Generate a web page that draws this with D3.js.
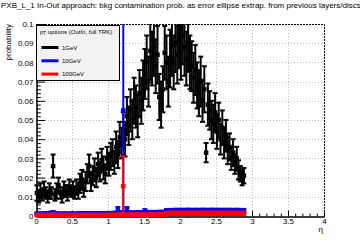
<!DOCTYPE html>
<html>
<head>
<meta charset="utf-8">
<script src="https://cdn.jsdelivr.net/npm/d3@7"></script>
<style>
  body { margin: 0; background: #fff; }
  svg { display: block; font-family: "Liberation Sans", Arial, sans-serif; }
</style>
</head>
<body>
<svg id="chart" width="360" height="240"></svg>
<script>
// histogram binning (eta)
const etaMin = 0;
const etaBinWidth = 0.025;

// 1 GeV
const val1GeV = [
  0.012, 0.010, 0.013, 0.011, 0.014, 0.012, 0.010, 0.013, 0.012, 0.026,
  0.011, 0.013, 0.016, 0.012, 0.010, 0.014, 0.013, 0.012, 0.015, 0.013,
  0.014, 0.012, 0.015, 0.013, 0.017, 0.019, 0.014, 0.018,
  0.022, 0.026, 0.018, 0.021, 0.024, 0.020, 0.027, 0.023, 0.029, 0.025, 0.022, 0.030,
  0.027, 0.031, 0.033, 0.028, 0.036, 0.032, 0.041, 0.038,
  0.045, 0.040, 0.052, 0.047, 0.055, 0.050, 0.060, 0.057, 0.052, 0.064, 0.060, 0.068,
  0.074, 0.080, 0.070, 0.086, 0.082, 0.088, 0.078, 0.084,
  0.062, 0.058, 0.066, 0.085, 0.080, 0.070,
  0.082, 0.088, 0.080, 0.090, 0.084, 0.092, 0.086, 0.094, 0.088, 0.082, 0.090, 0.080,
  0.078, 0.072, 0.076, 0.068, 0.064, 0.070, 0.060, 0.066, 0.033, 0.058, 0.055, 0.050,
  0.048, 0.054, 0.044, 0.050, 0.040, 0.046, 0.038, 0.042, 0.034, 0.036,
  0.030, 0.033, 0.027, 0.030, 0.024, 0.022, 0.020, 0.021
];
const err1GeV = [
  0.004, 0.003, 0.004, 0.003, 0.004, 0.003, 0.003, 0.004, 0.003, 0.006,
  0.003, 0.004, 0.004, 0.003, 0.003, 0.004, 0.003, 0.004, 0.004, 0.003,
  0.004, 0.003, 0.004, 0.004, 0.005, 0.005, 0.004, 0.005, 0.005, 0.006,
  0.005, 0.005, 0.006, 0.005, 0.006, 0.005, 0.006, 0.006, 0.005, 0.006,
  0.006, 0.007, 0.007, 0.006, 0.008, 0.007, 0.008, 0.008, 0.009, 0.009,
  0.010, 0.010, 0.011, 0.010, 0.012, 0.011, 0.011, 0.012, 0.012, 0.013,
  0.013, 0.014, 0.013, 0.015, 0.014, 0.015, 0.014, 0.015, 0.012, 0.012,
  0.012, 0.014, 0.014, 0.013, 0.015, 0.015, 0.014, 0.015, 0.015, 0.015,
  0.015, 0.015, 0.015, 0.014, 0.015, 0.014,
  0.013, 0.013, 0.013, 0.012, 0.012, 0.013, 0.011, 0.012, 0.005, 0.011, 0.010, 0.010,
  0.010, 0.010, 0.009, 0.009, 0.008, 0.009, 0.008, 0.008, 0.007, 0.007,
  0.006, 0.007, 0.005, 0.006, 0.005, 0.004, 0.004, 0.004
];

// 10 GeV
const val10GeV = [
  0.0010, 0.0011, 0.0010, 0.0009, 0.0011, 0.0010, 0.0012, 0.0010, 0.0014, 0.0016,
  0.0012, 0.0010, 0.0011, 0.0009, 0.0010, 0.0011, 0.0010, 0.0009, 0.0010, 0.0011,
  0.0010, 0.0009, 0.0010, 0.0011, 0.0010, 0.0012, 0.0010, 0.0011, 0.0010, 0.0012,
  0.0011, 0.0010, 0.0012, 0.0011, 0.0012, 0.0010, 0.0011, 0.0012, 0.0011, 0.0012,
  0.0012, 0.0011, 0.0013, 0.0012, 0.0014, 0.0030, 0.0015, 0.0016, 0.0550, 0.0016,
  0.0030, 0.0014, 0.0015, 0.0013, 0.0015, 0.0014, 0.0016, 0.0015, 0.0014, 0.0016,
  0.0020, 0.0015, 0.0016, 0.0015, 0.0017, 0.0016, 0.0015, 0.0017, 0.0016, 0.0018,
  0.0017, 0.0016, 0.0024, 0.0025, 0.0023, 0.0025, 0.0024, 0.0026, 0.0025, 0.0024,
  0.0026, 0.0025, 0.0024, 0.0026, 0.0025, 0.0026, 0.0024, 0.0025, 0.0026, 0.0025,
  0.0024, 0.0026, 0.0025, 0.0026, 0.0025, 0.0024, 0.0026, 0.0025, 0.0026, 0.0025,
  0.0024, 0.0026, 0.0025, 0.0024, 0.0026, 0.0025, 0.0024, 0.0026, 0.0025, 0.0024,
  0.0025, 0.0026, 0.0024, 0.0025, 0.0024, 0.0025
];
const err10GeV = [
  0.0008, 0.0008, 0.0008, 0.0007, 0.0008, 0.0008, 0.0009, 0.0008, 0.0009, 0.0010,
  0.0009, 0.0008, 0.0008, 0.0007, 0.0008, 0.0008, 0.0008, 0.0007, 0.0008, 0.0008,
  0.0008, 0.0007, 0.0008, 0.0008, 0.0008, 0.0009, 0.0008, 0.0008, 0.0008, 0.0009,
  0.0008, 0.0008, 0.0009, 0.0008, 0.0009, 0.0008, 0.0008, 0.0009, 0.0008, 0.0009,
  0.0009, 0.0008, 0.0009, 0.0009, 0.0009, 0.0017, 0.0009, 0.0010, 0.0550, 0.0010,
  0.0017, 0.0009, 0.0009, 0.0009, 0.0009, 0.0009, 0.0010, 0.0009, 0.0009, 0.0010,
  0.0016, 0.0009, 0.0010, 0.0009, 0.0010, 0.0010, 0.0009, 0.0010, 0.0010, 0.0010,
  0.0010, 0.0010, 0.0012, 0.0012, 0.0011, 0.0012, 0.0012, 0.0012, 0.0012, 0.0012,
  0.0012, 0.0012, 0.0012, 0.0012, 0.0012, 0.0012, 0.0012, 0.0012, 0.0012, 0.0012,
  0.0012, 0.0012, 0.0012, 0.0012, 0.0012, 0.0012, 0.0012, 0.0012, 0.0012, 0.0012,
  0.0012, 0.0012, 0.0012, 0.0012, 0.0012, 0.0012, 0.0012, 0.0012, 0.0012, 0.0012,
  0.0012, 0.0012, 0.0012, 0.0012, 0.0012, 0.0012
];

// 100 GeV
const val100GeV = [
  0.0005, 0.0004, 0.0005, 0.0005, 0.0004, 0.0005, 0.0005, 0.0004, 0.0005, 0.0006,
  0.0005, 0.0004, 0.0005, 0.0005, 0.0004, 0.0005, 0.0005, 0.0004, 0.0005, 0.0005,
  0.0005, 0.0004, 0.0005, 0.0005, 0.0004, 0.0005, 0.0005, 0.0004, 0.0005, 0.0005,
  0.0005, 0.0004, 0.0005, 0.0005, 0.0004, 0.0005, 0.0005, 0.0004, 0.0005, 0.0005,
  0.0005, 0.0005, 0.0006, 0.0005, 0.0005, 0.0006, 0.0005, 0.0006, 0.0155, 0.0006,
  0.0006, 0.0005, 0.0006, 0.0006, 0.0005, 0.0006, 0.0006, 0.0005, 0.0006, 0.0006,
  0.0006, 0.0005, 0.0006, 0.0006, 0.0005, 0.0006, 0.0006, 0.0005, 0.0006, 0.0007,
  0.0006, 0.0007, 0.0012, 0.0011, 0.0012, 0.0013, 0.0012, 0.0011, 0.0012, 0.0013,
  0.0012, 0.0011, 0.0012, 0.0013, 0.0012, 0.0012, 0.0011, 0.0012, 0.0013, 0.0012,
  0.0012, 0.0011, 0.0012, 0.0013, 0.0012, 0.0012, 0.0011, 0.0012, 0.0013, 0.0012,
  0.0012, 0.0011, 0.0012, 0.0013, 0.0012, 0.0012, 0.0011, 0.0012, 0.0013, 0.0012,
  0.0012, 0.0011, 0.0012, 0.0012, 0.0011, 0.0012
];
const err100GeV = [
  0.0005, 0.0004, 0.0005, 0.0005, 0.0004, 0.0005, 0.0005, 0.0004, 0.0005, 0.0006,
  0.0005, 0.0004, 0.0005, 0.0005, 0.0004, 0.0005, 0.0005, 0.0004, 0.0005, 0.0005,
  0.0005, 0.0004, 0.0005, 0.0005, 0.0004, 0.0005, 0.0005, 0.0004, 0.0005, 0.0005,
  0.0005, 0.0004, 0.0005, 0.0005, 0.0004, 0.0005, 0.0005, 0.0004, 0.0005, 0.0005,
  0.0005, 0.0005, 0.0006, 0.0005, 0.0005, 0.0006, 0.0005, 0.0006, 0.0155, 0.0006,
  0.0006, 0.0005, 0.0006, 0.0006, 0.0005, 0.0006, 0.0006, 0.0005, 0.0006, 0.0006,
  0.0006, 0.0005, 0.0006, 0.0006, 0.0005, 0.0006, 0.0006, 0.0005, 0.0006, 0.0007,
  0.0006, 0.0007, 0.0010, 0.0009, 0.0010, 0.0010, 0.0010, 0.0009, 0.0010, 0.0010,
  0.0010, 0.0009, 0.0010, 0.0010, 0.0010, 0.0010, 0.0009, 0.0010, 0.0010, 0.0010,
  0.0010, 0.0009, 0.0010, 0.0010, 0.0010, 0.0010, 0.0009, 0.0010, 0.0010, 0.0010,
  0.0010, 0.0009, 0.0010, 0.0010, 0.0010, 0.0010, 0.0009, 0.0010, 0.0010, 0.0010,
  0.0010, 0.0009, 0.0010, 0.0010, 0.0009, 0.0010
];

const legendLabels = ['1GeV', '10GeV', '100GeV'];
const seriesColors = ['#000000', '#0000ff', '#ff0000'];

const xTicks = [0, 0.5, 1, 1.5, 2, 2.5, 3, 3.5, 4];
const yTicks = [0, 0.01, 0.02, 0.03, 0.04, 0.05, 0.06, 0.07, 0.08, 0.09, 0.1];

let svg = d3.select('#chart');

let x = d3.scaleLinear().domain([0, 4]).range([36, 324]);
let y = d3.scaleLinear().domain([0, 0.1]).range([216, 24]);

//======= title =======//
svg.append('text')
  .attr('x', 1)
  .attr('y', 7.5)
  .attr('font-size', 8)
  .text('PXB_L_1 In-Out approach: bkg contamination prob. as error ellipse extrap. from previous layers/discs');

//======= grid =======//
let grid = svg.append('g')
  .attr('stroke', '#bdbdbd')
  .attr('stroke-width', 1)
  .attr('stroke-dasharray', '1,2');

grid.selectAll('.gx')
  .data(xTicks.slice(1, -1))
  .enter()
  .append('line')
  .attr('x1', d => Math.round(x(d)) + 0.5)
  .attr('x2', d => Math.round(x(d)) + 0.5)
  .attr('y1', y(0.1))
  .attr('y2', y(0));

grid.selectAll('.gy')
  .data(yTicks.slice(1, -1))
  .enter()
  .append('line')
  .attr('x1', x(0))
  .attr('x2', x(4))
  .attr('y1', d => Math.round(y(d)) + 0.5)
  .attr('y2', d => Math.round(y(d)) + 0.5);

//======= frame (top / right dashed) =======//
svg.append('path')
  .attr('d', 'M' + x(0) + ',' + (y(0.1) + 0.5) + 'H' + (x(4) + 0.5) + 'V' + y(0))
  .attr('fill', 'none')
  .attr('stroke', '#000')
  .attr('stroke-dasharray', '2,1');

//======= axes =======//
let fmt = d => String(d);

let yMinor = d3.range(0, 51).map(k => k * 0.002).filter((d, k) => k % 5 != 0);
let xMinor = d3.range(0, 41).map(k => k * 0.1).filter((d, k) => k % 5 != 0);

let yAxis = svg.append('g')
  .attr('transform', 'translate(' + (x(0) + 0.5) + ',0)')
  .call(d3.axisLeft(y).tickValues(yTicks).tickSize(-8.6).tickPadding(3).tickFormat(fmt));
svg.append('g')
  .attr('transform', 'translate(' + (x(0) + 0.5) + ',0)')
  .call(d3.axisLeft(y).tickValues(yMinor).tickSize(-4.3).tickFormat(''));

let xAxis = svg.append('g')
  .attr('transform', 'translate(0,' + (y(0) + 0.5) + ')')
  .call(d3.axisBottom(x).tickValues(xTicks).tickSize(-5.8).tickPadding(2).tickFormat(fmt));
svg.append('g')
  .attr('transform', 'translate(0,' + (y(0) + 0.5) + ')')
  .call(d3.axisBottom(x).tickValues(xMinor).tickSize(-2.9).tickFormat(''));

svg.selectAll('.domain').attr('stroke', '#000');
svg.selectAll('.tick line').attr('stroke', '#000');
yAxis.selectAll('text').attr('font-size', 8).attr('fill', '#000').attr('font-family', null).attr('dy', '0.34em');
xAxis.selectAll('text').attr('font-size', 8).attr('fill', '#000').attr('font-family', null).attr('dy', '0.72em');

svg.append('text')
  .attr('transform', 'translate(11,24) rotate(-90)')
  .attr('text-anchor', 'end')
  .attr('font-size', 8)
  .text('probability');

svg.append('text')
  .attr('x', 323)
  .attr('y', 232)
  .attr('text-anchor', 'end')
  .attr('font-size', 8)
  .text('η');

//======= data =======//
svg.append('clipPath')
  .attr('id', 'plotClip')
  .append('rect')
  .attr('x', 0)
  .attr('y', y(0.1))
  .attr('width', 360)
  .attr('height', 240 - y(0.1));

let plot = svg.append('g').attr('clip-path', 'url(#plotClip)');

function drawSeries(vals, errs, color) {
  let pts = vals.map((v, i) => ({ eta: etaMin + (i + 0.5) * etaBinWidth, v: v, e: errs[i] }));
  let g = plot.append('g')
    .attr('stroke', color)
    .attr('stroke-width', 2);

  g.selectAll('.bar')
    .data(pts)
    .enter()
    .append('line')
    .attr('x1', d => x(d.eta))
    .attr('x2', d => x(d.eta))
    .attr('y1', d => y(Math.max(0, d.v - d.e)))
    .attr('y2', d => y(d.v + d.e));

  g.selectAll('.capTop')
    .data(pts)
    .enter()
    .append('line')
    .attr('x1', d => x(d.eta) - 2.5)
    .attr('x2', d => x(d.eta) + 2.5)
    .attr('y1', d => y(d.v + d.e))
    .attr('y2', d => y(d.v + d.e));

  g.selectAll('.capBottom')
    .data(pts.filter(d => d.v - d.e > 0.0003))
    .enter()
    .append('line')
    .attr('x1', d => x(d.eta) - 2.5)
    .attr('x2', d => x(d.eta) + 2.5)
    .attr('y1', d => y(d.v - d.e))
    .attr('y2', d => y(d.v - d.e));

  plot.append('g')
    .selectAll('rect')
    .data(pts)
    .enter()
    .append('rect')
    .attr('x', d => x(d.eta) - 2.25)
    .attr('y', d => y(d.v) - 2.25)
    .attr('width', 4.5)
    .attr('height', 4.5)
    .attr('fill', color);
}

drawSeries(val1GeV, err1GeV, seriesColors[0]);
drawSeries(val10GeV, err10GeV, seriesColors[1]);
drawSeries(val100GeV, err100GeV, seriesColors[2]);

//======= legend =======//
let legend = svg.append('g');

legend.append('rect')
  .attr('x', 36.5)
  .attr('y', 25.5)
  .attr('width', 83)
  .attr('height', 55)
  .attr('fill', '#f2f2f2')
  .attr('stroke', '#000')
  .attr('stroke-width', 1);

let header = legend.append('text')
  .attr('x', 40)
  .attr('y', 33.5)
  .attr('font-size', 6);
header.append('tspan').text('p');
header.append('tspan').attr('font-size', 4.5).attr('dy', 1.5).text('T');
header.append('tspan').attr('dy', -1.5).text(' options (OutIn, full TRK).');

legendLabels.forEach(function (label, i) {
  let ly = 47.5 + i * 13.3;
  legend.append('line')
    .attr('x1', 41.5)
    .attr('x2', 58.5)
    .attr('y1', ly)
    .attr('y2', ly)
    .attr('stroke', seriesColors[i])
    .attr('stroke-width', 3);
  legend.append('text')
    .attr('x', 62)
    .attr('y', ly + 2.1)
    .attr('font-size', 6)
    .text(label);
});
</script>
</body>
</html>
